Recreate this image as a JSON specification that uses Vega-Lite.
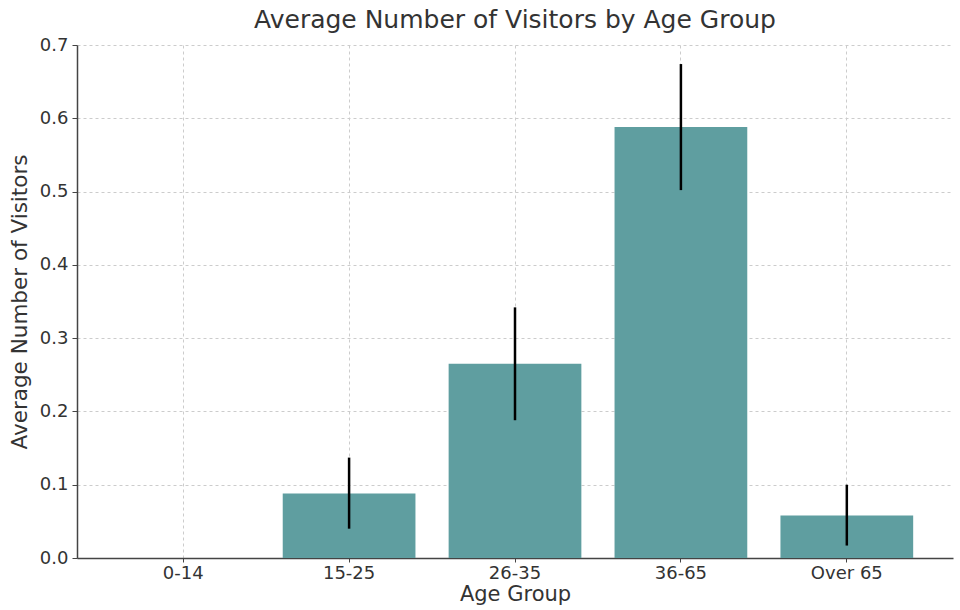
{
  "$schema": "https://vega.github.io/schema/vega-lite/v6.json",
  "autosize": "none",
  "width": 876,
  "height": 513,
  "padding": {"left": 77, "top": 45, "right": 7, "bottom": 52},
  "background": "white",
  "title": {"text": "Average Number of Visitors by Age Group", "fontSize": 25, "font": "DejaVu Sans", "fontWeight": "normal", "color": "#333333", "offset": 3},
  "config": {
    "view": {"stroke": null},
    "font": "DejaVu Sans"
  },
  "data": {"values": [
    {"group": "0-14", "mean": 0, "lo": null, "hi": null},
    {"group": "15-25", "mean": 0.088, "lo": 0.04, "hi": 0.137},
    {"group": "26-35", "mean": 0.265, "lo": 0.188, "hi": 0.342},
    {"group": "36-65", "mean": 0.588, "lo": 0.502, "hi": 0.674},
    {"group": "Over 65", "mean": 0.058, "lo": 0.017, "hi": 0.1}
  ]},
  "encoding": {
    "x": {"field": "group", "type": "nominal", "sort": null,
      "scale": {"paddingInner": 0.2, "paddingOuter": 0.24},
      "axis": {"title": "Age Group", "labelAngle": 0, "labelFontSize": 18, "titleFontSize": 21, "titleFontWeight": "normal", "labelColor": "#333333", "titleColor": "#333333", "domainColor": "#444444", "domainWidth": 1.5, "tickColor": "#444444", "tickSize": 4, "labelPadding": 2, "titlePadding": 1, "bandPosition": 0.5, "grid": true, "gridDash": [3, 3], "gridColor": "#cccccc"}
    }
  },
  "layer": [
    {
      "mark": {"type": "bar", "color": "#5f9ea0"},
      "encoding": {
        "y": {"field": "mean", "type": "quantitative",
          "scale": {"domain": [0, 0.7], "nice": false},
          "axis": {"title": "Average Number of Visitors", "format": ".1f", "tickCount": 8, "labelFontSize": 18, "titleFontSize": 21.5, "titleFontWeight": "normal", "labelColor": "#333333", "titleColor": "#333333", "domainColor": "#444444", "domainWidth": 1.5, "tickColor": "#444444", "tickSize": 5, "labelPadding": 4, "titlePadding": 8, "grid": true, "gridDash": [3, 3], "gridColor": "#cccccc"}
        }
      }
    },
    {
      "mark": {"type": "rule", "color": "black", "strokeWidth": 2.5},
      "encoding": {
        "y": {"field": "lo", "type": "quantitative"},
        "y2": {"field": "hi"}
      }
    }
  ]
}
